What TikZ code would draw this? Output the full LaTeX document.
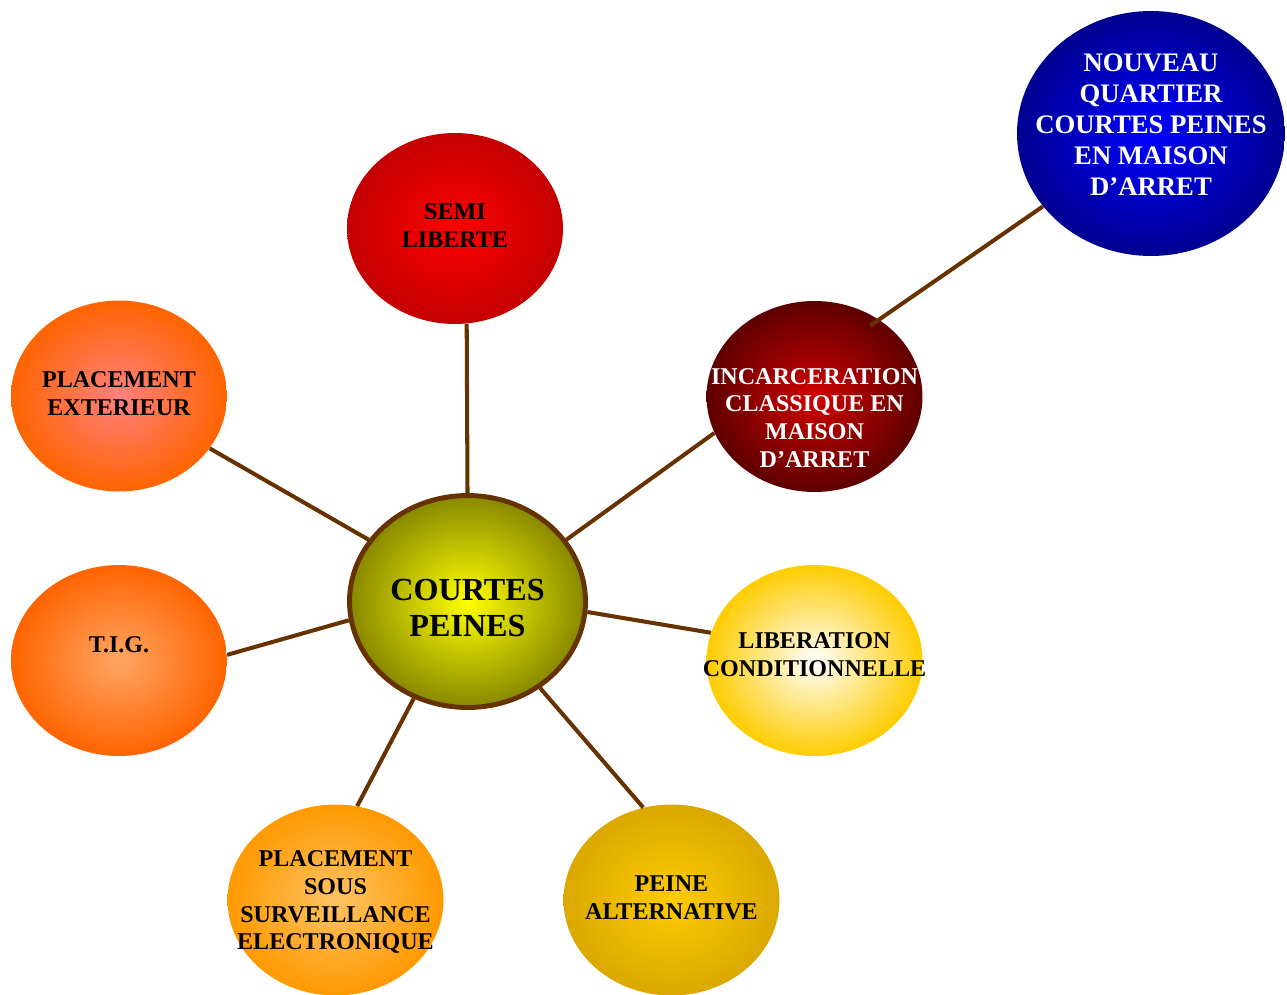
\documentclass[tikz,border=0pt]{standalone}
\usepackage{fontspec}
\setmainfont{Liberation Serif}
\usetikzlibrary{shapes.geometric}
\definecolor{cp-link}{HTML}{663300}
\definecolor{cp-olive}{HTML}{888800}
\definecolor{cp-red}{HTML}{C40000}
\definecolor{cp-orange}{HTML}{FF6400}
\definecolor{cp-amber}{HTML}{FF9900}
\definecolor{cp-gold}{HTML}{DAA800}
\definecolor{cp-sun}{HTML}{FFCC00}
\definecolor{cp-wine}{HTML}{5E0000}
\definecolor{cp-navy}{HTML}{000090}

\begin{document}
\begin{tikzpicture}[x=0.02cm, y=-0.02cm,
    bubble/.style={ellipse, inner sep=0pt, minimum width=4.32cm, minimum height=3.82cm},
    link/.style={cp-link, line width=2.3pt},
    lbl/.style={font=\bfseries\fontsize{13.7}{15.9}\selectfont, align=center, inner sep=0pt}]
    \useasboundingbox (0,0) rectangle (1287,994);
    % bulles
    \node[bubble, inner color=red, outer color=cp-red] (semi) at (455,228.5) {};
    \node[bubble, inner color={rgb,255:red,255;green,128;blue,128}, outer color=cp-orange] (ext) at (119,396) {};
    \node[bubble, inner color={rgb,255:red,255;green,165;blue,100}, outer color=cp-orange] (tig) at (119,660.5) {};
    \node[bubble, inner color={rgb,255:red,255;green,195;blue,100}, outer color=cp-amber] (pse) at (335.5,900) {};
    \node[bubble, inner color=cp-sun, outer color=cp-gold] (alt) at (671.5,900) {};
    \node[bubble, inner color=white, outer color=cp-sun] (lib) at (814.5,660.5) {};
    \node[bubble, inner color={rgb,255:red,210;green,0;blue,0}, outer color=cp-wine] (inc) at (814.5,396.5) {};
    \node[bubble, minimum width=5.36cm, minimum height=4.9cm, inner color=blue, outer color=cp-navy] (qcp) at (1151,133.5) {};
    \node[ellipse, inner sep=0pt, minimum width=4.72cm, minimum height=4.24cm, draw=cp-link, line width=2.8pt,
        inner color=yellow, outer color=cp-olive] (hub) at (467.5,601.5) {};
    % liens
    \draw[link] (hub.90) -- (semi.-83);
    \draw[link] (hub.148) -- (ext.-30);
    \draw[link] (hub.189) -- (tig.3);
    \draw[link] (hub.241) -- (pse.77);
    \draw[link] (hub.-50) -- (alt.107);
    \draw[link] (hub.-5) -- (lib.165);
    \draw[link] (hub.32.5) -- (inc.200);
    \draw[link, shorten <=-6pt] (inc.50) -- (qcp.214);
    % textes
    \node[lbl] (semitxt) at (455,226) {SEMI\\LIBERTE};
    \node[lbl] (exttxt) at (119,394) {PLACEMENT\\EXTERIEUR};
    \node[lbl] (tigtxt) at (119,645) {T.I.G.};
    \node[lbl] (psetxt) at (335.5,902) {PLACEMENT\\SOUS\\SURVEILLANCE\\ELECTRONIQUE};
    \node[lbl] (alttxt) at (671.5,898) {PEINE\\ALTERNATIVE};
    \node[lbl] (libtxt) at (814.5,655) {LIBERATION\\CONDITIONNELLE};
    \node[lbl, text=white] (inctxt) at (814.5,418) {INCARCERATION\\CLASSIQUE EN\\MAISON\\D’ARRET};
    \node[lbl, text=white, font=\bfseries\fontsize{15.2}{17.6}\selectfont] (qcptxt) at (1151,124.5)
        {NOUVEAU\\QUARTIER\\COURTES PEINES\\EN MAISON\\D’ARRET};
    \node[lbl, font=\bfseries\fontsize{18.3}{21}\selectfont] (hubtxt) at (467.5,608) {COURTES\\PEINES};
\end{tikzpicture}
\end{document}
